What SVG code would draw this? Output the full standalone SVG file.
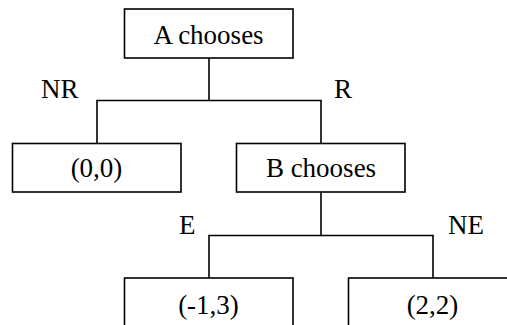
<svg xmlns="http://www.w3.org/2000/svg" width="507" height="325" viewBox="0 0 507 325">
<style>
.box{fill:#fff;stroke:#000;stroke-width:1.6}
.ln{fill:none;stroke:#000;stroke-width:1.6}
</style>
<rect width="507" height="325" fill="#fff"/>
<g id="connectors">
<polyline class="ln" points="209,58 209,100.5 97,100.5 97,143"/>
<polyline class="ln" points="209,100.5 321,100.5 321,143"/>
<polyline class="ln" points="321,192 321,235.5 209,235.5 209,278"/>
<polyline class="ln" points="321,235.5 433,235.5 433,278"/>
<text font-size="27" font-family="Times New Roman, Liberation Serif, serif" x="41" y="98">NR</text>
<text font-size="27" font-family="Times New Roman, Liberation Serif, serif" x="334" y="98">R</text>
<text font-size="27" font-family="Times New Roman, Liberation Serif, serif" x="179" y="234">E</text>
<text font-size="27" font-family="Times New Roman, Liberation Serif, serif" x="448" y="234">NE</text>
</g>
<g id="nodeA"><rect class="box" x="124.5" y="9" width="168.5" height="49"/><text font-size="27" font-family="Times New Roman, Liberation Serif, serif" text-anchor="middle" x="208.5" y="44">A chooses</text></g>
<g id="node00"><rect class="box" x="12.5" y="143.5" width="168.5" height="48.5"/><text font-size="27" font-family="Times New Roman, Liberation Serif, serif" text-anchor="middle" x="96.5" y="177">(0,0)</text></g>
<g id="nodeB"><rect class="box" x="236.5" y="143.5" width="168.5" height="48.5"/><text font-size="27" font-family="Times New Roman, Liberation Serif, serif" text-anchor="middle" x="321" y="177">B chooses</text></g>
<g id="nodeM13"><rect class="box" x="124.5" y="278" width="168.5" height="60"/><text font-size="27" font-family="Times New Roman, Liberation Serif, serif" text-anchor="middle" x="208.5" y="314">(-1,3)</text></g>
<g id="node22"><rect class="box" x="348.5" y="278" width="168.5" height="60"/><text font-size="27" font-family="Times New Roman, Liberation Serif, serif" text-anchor="middle" x="432.5" y="314">(2,2)</text></g>
</svg>
